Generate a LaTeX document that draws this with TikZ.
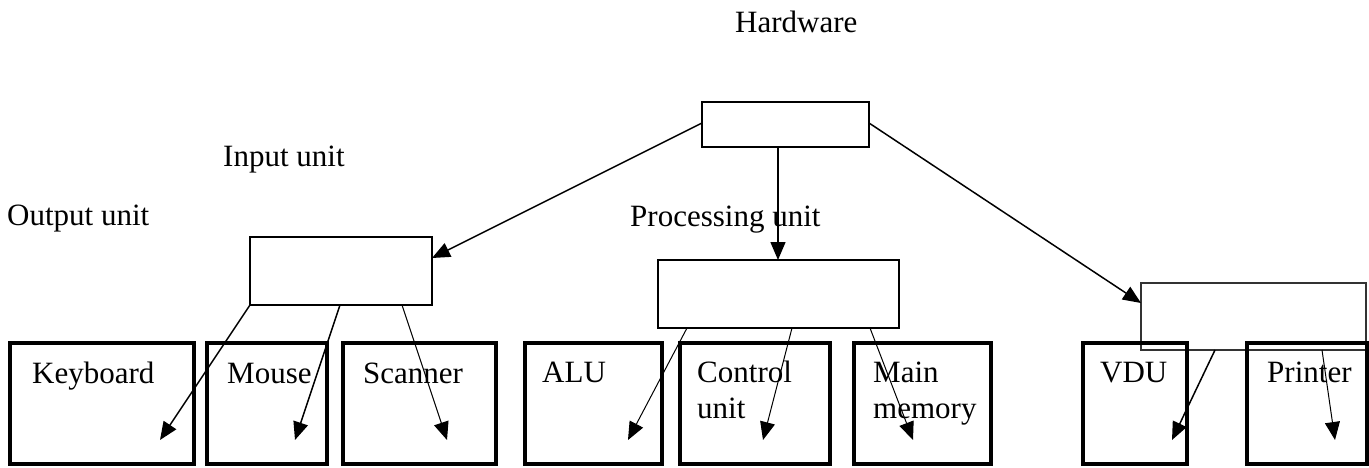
\documentclass[tikz,border=0pt]{standalone}
\usepackage{fontspec}
\setmainfont{Liberation Serif}
\usetikzlibrary{arrows.meta}
\tikzset{
  upbox/.style={draw, line width=1.6pt, inner sep=0pt, outer sep=0pt, rectangle},
  lowbox/.style={draw, line width=3.2pt, inner sep=0pt, outer sep=0pt, rectangle, minimum height=121pt},
  lbl/.style={anchor=base west, inner sep=0pt, font=\fontsize{31}{37}\selectfont},
  arr/.style={line width=1.5pt, -{Triangle[length=18pt,width=15pt]}},
  tarr/.style={line width=1pt, -{Triangle[length=18pt,width=15pt]}},
}
\begin{document}
\begin{tikzpicture}[x=1pt,y=1pt]
\useasboundingbox (0,0) rectangle (1369,-467);
% upper boxes
\node[upbox, minimum width=167pt, minimum height=45pt] (hw) at (785.5,-124.5) {};
\node[upbox, minimum width=182pt, minimum height=68pt] (in) at (341,-271) {};
\node[upbox, minimum width=241pt, minimum height=68pt] (pr) at (778.5,-294) {};
\node[upbox, line width=1.3pt, draw=black!80, minimum width=225pt, minimum height=67pt] (out) at (1253.5,-316.5) {};
% lower boxes
\node[lowbox, minimum width=184pt] (kb) at (102,-403.5) {};
\node[lowbox, minimum width=120pt] (ms) at (267,-403.5) {};
\node[lowbox, minimum width=153pt] (sc) at (419.5,-403.5) {};
\node[lowbox, minimum width=137pt] (alu) at (593.5,-403.5) {};
\node[lowbox, minimum width=150pt] (cu) at (755,-403.5) {};
\node[lowbox, minimum width=137pt] (mm) at (922.5,-403.5) {};
\node[lowbox, minimum width=104pt] (vdu) at (1135,-403.5) {};
\node[lowbox, minimum width=120pt] (prn) at (1307,-403.5) {};
% labels
\node[lbl] (thw) at (735,-32) {Hardware};
\node[lbl] (tin) at (223,-166) {Input unit};
\node[lbl] (tpr) at (630,-226) {Processing unit};
\node[lbl] (tout) at (7,-225) {Output unit};
\node[lbl] (tkb) at (32,-383) {Keyboard};
\node[lbl] (tms) at (227,-383) {Mouse};
\node[lbl] (tsc) at (363,-383) {Scanner};
\node[lbl] (talu) at (542,-382) {ALU};
\node[lbl] (tcu1) at (697,-382) {Control};
\node[lbl] (tcu2) at (697,-418) {unit};
\node[lbl] (tmm1) at (873,-382) {Main};
\node[lbl] (tmm2) at (873,-418) {memory};
\node[lbl] (tvdu) at (1100,-382) {VDU};
\node[lbl] (tprn) at (1267,-382) {Printer};
% arrow tips inside lower boxes
\coordinate (kbtip) at (160,-440);
\coordinate (mstip) at (295,-440);
\coordinate (sctip) at (447,-440);
\coordinate (alutip) at (628,-440);
\coordinate (cutip) at (763,-440);
\coordinate (mmtip) at (913,-440);
\coordinate (vdutip) at (1172,-440);
\coordinate (prntip) at (1335,-440);
% connectors
\draw[arr] ([yshift=1.5pt]hw.west) -- ([yshift=13pt]in.east);
\draw[arr] ([xshift=-7.5pt]hw.south) -- ([xshift=-0.5pt]pr.north);
\draw[arr] ([yshift=1.5pt]hw.east) -- ([yshift=13.5pt]out.west);
\draw[arr] (in.south west) -- (kbtip);
\draw[arr] ([xshift=90pt]in.south west) -- (mstip);
\draw[tarr] ([xshift=152pt]in.south west) -- (sctip);
\draw[tarr] ([xshift=29pt]pr.south west) -- (alutip);
\draw[tarr] ([xshift=134pt]pr.south west) -- (cutip);
\draw[tarr] ([xshift=212pt]pr.south west) -- (mmtip);
\draw[arr] ([xshift=74pt]out.south west) -- (vdutip);
\draw[tarr] ([xshift=181pt]out.south west) -- (prntip);
\end{tikzpicture}
\end{document}
